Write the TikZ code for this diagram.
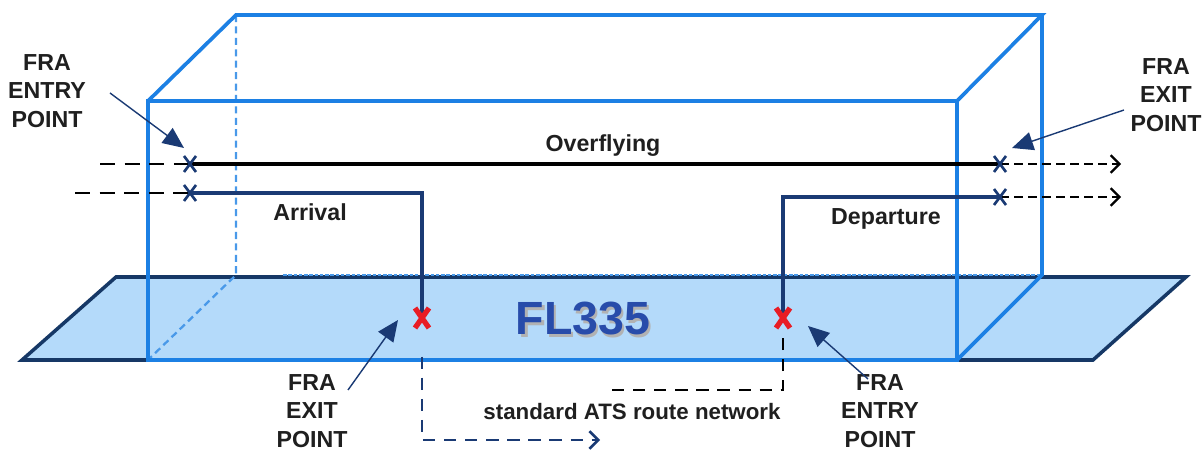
\documentclass[tikz,border=0pt]{standalone}
\usepackage{fontspec}
\setmainfont{Liberation Sans}
\usetikzlibrary{arrows.meta}
\definecolor{boxblue}{RGB}{28,128,228}
\definecolor{planefill}{RGB}{180,218,250}
\definecolor{planeedge}{RGB}{22,56,102}
\definecolor{route}{RGB}{26,58,116}
\definecolor{flblue}{RGB}{40,76,170}
\definecolor{markred}{RGB}{232,28,36}
\tikzset{
  navyx/.pic={\draw[route,line width=1.5pt] (-6,-8) -- (6,8) (-6,8) -- (6,-8);},
  redx/.pic={\draw[markred,line width=3pt] (-7,-10) -- (7,10) (-7,10) -- (7,-10);}
}
\begin{document}
\begin{tikzpicture}[x=0.02cm,y=-0.02cm,
  boxedge/.style={draw=boxblue,line width=2.1pt,line join=miter,line cap=round},
  hiddenedge/.style={draw=boxblue!80,line width=1.3pt,dash pattern=on 4pt off 2.5pt},
  backfloor/.style={draw=boxblue!80,line width=1.2pt,dash pattern=on 2pt off 1pt},
  plane/.style={fill=planefill,draw=planeedge,line width=2pt,line join=miter},
  routeline/.style={draw=route,line width=1.8pt},
  overline/.style={draw=black,line width=1.8pt},
  feeder/.style={draw=black,line width=1.6pt,dash pattern=on 8.5pt off 5.5pt},
  exitleg/.style={draw=black,line width=1.2pt,dash pattern=on 5pt off 3pt,
    -{Straight Barb[length=5pt,width=10pt,line width=1.3pt]}},
  atsout/.style={draw=route,line width=1.6pt,dash pattern=on 7pt off 5pt,
    -{Straight Barb[length=5pt,width=10pt,line width=1.5pt]}},
  atsin/.style={draw=black,line width=1.6pt,dash pattern=on 7pt off 5pt},
  callout/.style={draw=route,line width=0.8pt,-{Triangle[length=12pt,width=10.5pt]}},
  lbl/.style={font=\bfseries\fontsize{13.2}{16.3}\selectfont,align=center,text=black!88,inner sep=0pt},
]
\useasboundingbox (0,0) rectangle (1203,452);

% flight level plane
\path[plane] (22,360) -- (116,277) -- (1186,277) -- (1093,360) -- cycle;

% hidden edges of the airspace block
\draw[hiddenedge] (236,15) -- (236,275) -- (148,360);
\draw[backfloor] (283,275) -- (1042,275);

% visible edges of the airspace block
\draw[boxedge] (148,360) -- (148,101) -- (957,101) -- (957,360) -- cycle;
\draw[boxedge] (148,101) -- (236,15) -- (1042,15) -- (957,101);
\draw[boxedge] (1042,15) -- (1042,275) -- (957,360);

% flight level label with its soft shadow
\node (fl) [text=flblue,font=\bfseries\fontsize{26.5}{30}\selectfont] at (583,320)
  {\makebox[0pt][l]{\hspace{1.3pt}\raisebox{-1.3pt}{\color{black!30}FL335}}FL335};

% points on the trajectories
\coordinate (ovIn) at (190,164);
\coordinate (ovOut) at (1000,164);
\coordinate (arIn) at (190,193);
\coordinate (arCorner) at (422,193);
\coordinate (arExit) at (422,318);
\coordinate (arBend) at (422,440);
\coordinate (arEnd) at (600,440);
\coordinate (dpStart) at (612,390);
\coordinate (dpBend) at (783,390);
\coordinate (dpEntry) at (783,318);
\coordinate (dpCorner) at (783,197);
\coordinate (dpOut) at (1000,197);
\coordinate (ovFeed) at (100,164);
\coordinate (arFeed) at (75,193);
\coordinate (ovEnd) at (1121,164);
\coordinate (dpEnd) at (1121,197);

% trajectories
\draw[feeder] (ovFeed) -- (ovIn);
\draw[feeder] (arFeed) -- (arIn);
\draw[overline] (ovIn) -- (ovOut);
\draw[routeline] (arIn) -- (arCorner) -- (arExit);
\draw[routeline] (dpEntry) -- (dpCorner) -- (dpOut);
\draw[exitleg] (ovOut) -- (ovEnd);
\draw[exitleg] (dpOut) -- (dpEnd);
\draw[atsout] ([yshift=-22]arExit) -- (arBend) -- (arEnd);
\draw[atsin] (dpStart) -- (dpBend) -- ([yshift=-9]dpEntry);

% FRA points
\pic at (ovIn) {navyx};
\pic at (arIn) {navyx};
\pic at (ovOut) {navyx};
\pic at (dpOut) {navyx};
\pic at (arExit) {redx};
\pic at (dpEntry) {redx};

% trajectory labels
\node (ovl) [lbl] at (603,146) {Overflying};
\node (arl) [lbl] at (310,212) {Arrival};
\node (dpl) [lbl] at (886,219) {Departure};
\node (ats) [lbl,font=\bfseries\fontsize{12.7}{16}\selectfont] at (632,412) {standard ATS route network};

% FRA point callouts
\node (tlLbl) [lbl] at (47,91) {FRA\\ENTRY\\POINT};
\node (trLbl) [lbl] at (1166,95) {FRA\\EXIT\\POINT};
\node (blLbl) [lbl] at (312,411) {FRA\\EXIT\\POINT};
\node (brLbl) [lbl] at (880,411) {FRA\\ENTRY\\POINT};
\coordinate (tlTail) at (110,93);
\coordinate (tlTip) at (184,148);
\coordinate (trTail) at (1124,110);
\coordinate (trTip) at (1012,148);
\coordinate (blTail) at (348,390);
\coordinate (blTip) at (398,320);
\coordinate (brTail) at (868,379);
\coordinate (brTip) at (808,326);
\draw[callout] (tlTail) -- (tlTip);
\draw[callout] (trTail) -- (trTip);
\draw[callout] (blTail) -- (blTip);
\draw[callout] (brTail) -- (brTip);
\end{tikzpicture}
\end{document}
